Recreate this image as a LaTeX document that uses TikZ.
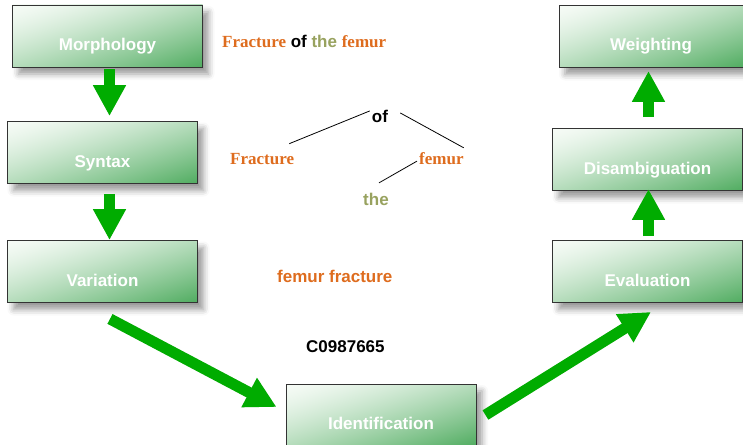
\documentclass[tikz,border=0pt]{standalone}
\usepackage{fontspec}
\setmainfont{Liberation Sans}
\newfontfamily\timesb{Liberation Serif}
\usetikzlibrary{arrows.meta,shadows.blur}
\definecolor{arrgreen}{RGB}{0,172,0}
\definecolor{orng}{RGB}{222,108,30}
\definecolor{olivec}{RGB}{152,162,95}
\pgfdeclarefunctionalshading{boxgrad}{\pgfpoint{0bp}{0bp}}{\pgfpoint{100bp}{100bp}}{}{
  exch 25 sub exch 75 exch sub add 100 div
  dup 0 lt {pop 0} if dup 1 gt {pop 1} if
  1.35 exp
  dup 166 mul 246 exch sub 255 div exch
  dup 79 mul 251 exch sub 255 div exch
  150 mul 246 exch sub 255 div
}
\tikzset{
  stage/.style={draw=black!80, line width=0.9pt, minimum width=190pt, minimum height=62pt,
    inner sep=0pt, shade, shading=boxgrad, shading angle=0,
    blur shadow={shadow xshift=6pt, shadow yshift=-7pt, shadow blur radius=6pt, shadow opacity=40},
    text=white, font=\bfseries\fontsize{17}{20}\selectfont, text height=29pt, text depth=0pt},
  bigarrow/.style={draw=arrgreen, line width=11pt, -{Triangle[width=31pt,length=31pt]}, arrgreen},
  arrowshade/.style={draw=black!10, line width=11pt, -{Triangle[width=31pt,length=31pt]}, black!10},
  word/.style={inner sep=0pt, font=\bfseries\fontsize{17}{20}\selectfont},
  tree/.style={black, line width=0.8pt}
}
\begin{document}
\begin{tikzpicture}[x=1pt,y=-1pt]
\useasboundingbox (0,0) rectangle (743,444);
% boxes
\node[stage] (morph) at (107.5,36) {Morphology};
\node[stage] (syntax) at (102.5,152.5) {Syntax};
\node[stage] (var) at (102.5,271.5) {Variation};
\node[stage] (ident) at (381,415) {Identification};
\node[stage] (eval) at (647.5,271.5) {Evaluation};
\node[stage] (disamb) at (647.5,159.5) {Disambiguation};
\node[stage, minimum width=184pt] (weight) at (651,36.5) {Weighting};
% arrow shadows
\begin{scope}[shift={(6,5)}]
\draw[arrowshade] ([shift={(2,2)}]morph.south) -- ([shift={(7,-5)}]syntax.north);
\draw[arrowshade] ([shift={(7,10)}]syntax.south) -- ([shift={(7,0)}]var.north);
\draw[arrowshade] ([shift={(7.5,16)}]var.south) -- ([shift={(-9,-8)}]ident.west);
\draw[arrowshade] ([shift={(9,0)}]ident.east) -- ([shift={(3.5,9)}]eval.south);
\draw[arrowshade] ([shift={(1,-4)}]eval.north) -- ([shift={(1,-2)}]disamb.south);
\draw[arrowshade] ([shift={(1,-11)}]disamb.north) -- ([shift={(-2.5,3)}]weight.south);
\end{scope}
% arrows
\draw[bigarrow] ([shift={(2,2)}]morph.south) -- ([shift={(7,-5)}]syntax.north);
\draw[bigarrow] ([shift={(7,10)}]syntax.south) -- ([shift={(7,0)}]var.north);
\draw[bigarrow] ([shift={(7.5,16)}]var.south) -- ([shift={(-9,-8)}]ident.west);
\draw[bigarrow] ([shift={(9,0)}]ident.east) -- ([shift={(3.5,9)}]eval.south);
\draw[bigarrow] ([shift={(1,-4)}]eval.north) -- ([shift={(1,-2)}]disamb.south);
\draw[bigarrow] ([shift={(1,-11)}]disamb.north) -- ([shift={(-2.5,3)}]weight.south);
% phrase
\node[word, anchor=base west] (phrase) at (222,48)
  {{\timesb\color{orng}Fracture} of {\color{olivec}the} {\timesb\color{orng}femur}};
% tree
\node[word, anchor=base] (of) at (380,122) {of};
\node[word, anchor=base west, text=orng] (fr) at (230,164) {\timesb Fracture};
\node[word, anchor=base west, text=orng] (fe) at (419,164) {\timesb femur};
\node[word, anchor=base west, text=olivec] (the) at (363,205) {the};
\draw[tree] ([shift={(-5,-9)}]fr.north east) -- ([shift={(-2,-5)}]of.west);
\draw[tree] ([shift={(12,-3)}]of.east) -- ([shift={(0,-4)}]fe.north east);
\draw[tree] ([shift={(-2,3)}]fe.west) -- ([shift={(3,-9.6)}]the.north);
% others
\node[word, anchor=base west, text=orng] (ff) at (277,282) {femur fracture};
\node[word, anchor=base west] (code) at (306,352) {C0987665};
\end{tikzpicture}
\end{document}
